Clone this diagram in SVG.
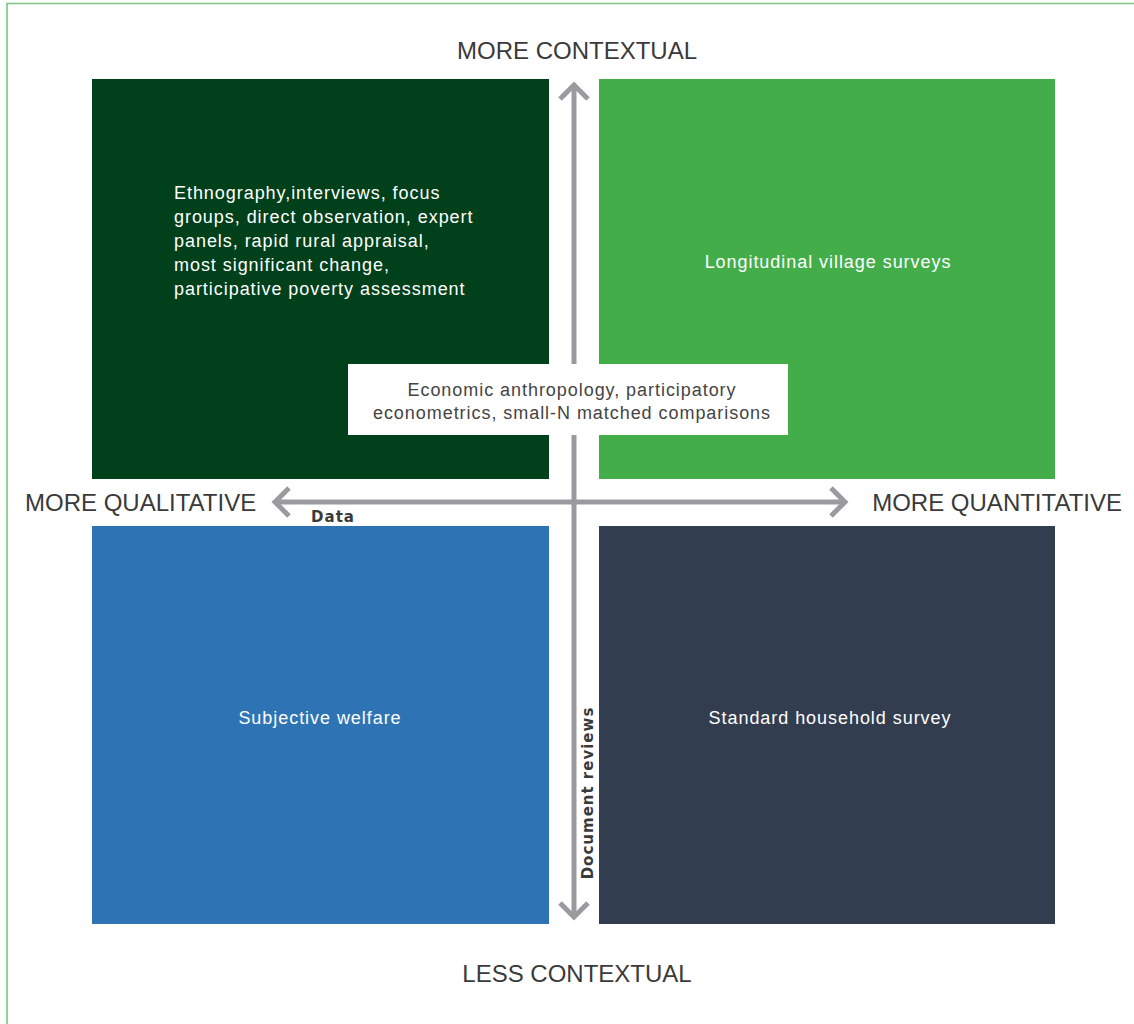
<svg xmlns="http://www.w3.org/2000/svg" width="1134" height="1024" viewBox="0 0 1134 1024">
<defs>
<style>
.axis{stroke:#9b9b9f;stroke-width:5;fill:none}
.head{stroke:#9b9b9f;stroke-width:5;fill:none;stroke-linecap:butt;stroke-linejoin:miter}
.pole{font-family:"Liberation Sans",Arial,sans-serif;font-size:24px;fill:#3a3a3a}
.qt{font-family:"Liberation Sans",Arial,sans-serif;font-size:18px;letter-spacing:0.95px;fill:#ffffff}
.mid{font-family:"Liberation Sans",Arial,sans-serif;font-size:18px;letter-spacing:0.95px;fill:#444444}
.lbl{font-family:"DejaVu Sans",sans-serif;font-weight:bold;fill:#3a3a3a;letter-spacing:1px}
</style>
</defs>
<rect width="1134" height="1024" fill="#ffffff"/>
<path d="M7,1024 V3.5 H1134" fill="none" stroke="#7cc47f" stroke-width="1.6"/>

<g id="q-top-left">
<rect x="92" y="79" width="457" height="400" fill="#00401a"/>
<text class="qt" x="174" y="199">Ethnography,interviews, focus</text>
<text class="qt" x="174" y="223">groups, direct observation, expert</text>
<text class="qt" x="174" y="247">panels, rapid rural appraisal,</text>
<text class="qt" x="174" y="271">most significant change,</text>
<text class="qt" x="174" y="295">participative poverty assessment</text>
</g>
<g id="q-top-right">
<rect x="599" y="79" width="456" height="400" fill="#43ad4a"/>
<text class="qt" x="828" y="268" text-anchor="middle">Longitudinal village surveys</text>
</g>
<g id="q-bottom-left">
<rect x="92" y="526" width="457" height="398" fill="#2e74b5"/>
<text class="qt" x="320" y="724" text-anchor="middle">Subjective welfare</text>
</g>
<g id="q-bottom-right">
<rect x="599" y="526" width="456" height="398" fill="#333d50"/>
<text class="qt" x="830" y="724" text-anchor="middle">Standard household survey</text>
</g>

<g id="connectors">
<line class="axis" x1="574" y1="86" x2="574" y2="916"/>
<polyline class="head" points="560,99 574,85 588,99"/>
<polyline class="head" points="560,903 574,917 588,903"/>
<line class="axis" x1="276" y1="502" x2="844" y2="502"/>
<polyline class="head" points="289,488 275,502 289,516"/>
<polyline class="head" points="831,488 845,502 831,516"/>
</g>

<g id="center-box">
<rect x="348" y="364" width="440" height="71" fill="#ffffff"/>
<text class="mid" x="572" y="396" text-anchor="middle">Economic anthropology, participatory</text>
<text class="mid" x="572" y="419" text-anchor="middle">econometrics, small-N matched comparisons</text>
</g>

<g id="labels">
<text class="pole" x="577" y="59" text-anchor="middle">MORE CONTEXTUAL</text>
<text class="pole" x="577" y="982" text-anchor="middle">LESS CONTEXTUAL</text>
<text class="pole" x="25" y="511">MORE QUALITATIVE</text>
<text class="pole" x="1122" y="511" text-anchor="end">MORE QUANTITATIVE</text>
<text class="lbl" x="333" y="522" font-size="15" text-anchor="middle">Data</text>
<text class="lbl" font-size="15" text-anchor="middle" transform="translate(593,793) rotate(-90)">Document reviews</text>
</g>
</svg>
